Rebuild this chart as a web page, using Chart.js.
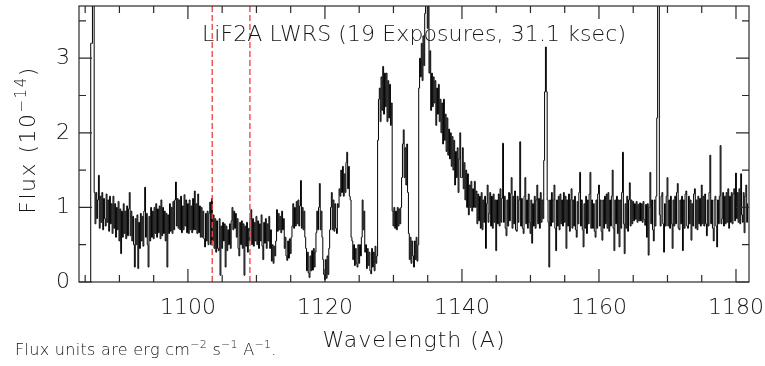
<!DOCTYPE html>
<html>
<head>
<meta charset="utf-8">
<script src="https://cdn.jsdelivr.net/npm/chart.js@4.4.1/dist/chart.umd.min.js"></script>
<style>
  html, body { margin: 0; padding: 0; background: #ffffff; }
  #wrap { width: 765px; height: 366px; }
</style>
</head>
<body>
<div id="wrap"><canvas id="c" width="765" height="366"></canvas></div>
<script>
// ---------------- data ----------------
const WAVE_STEP = 0.125;             // bin width in Angstrom

const START_A = 1085.75;
const FLUX_A = [0.00, 3.20, 3.20, 6.00, 6.00, 1.20, 0.78, 1.20, 0.85, 1.10,
  1.43, 0.72, 1.15, 0.80, 1.20, 0.70, 1.12, 0.85,
  0.75, 1.18, 0.80, 1.10, 0.68, 1.15, 0.78, 1.05,
  0.65, 1.15, 0.72, 1.05, 0.60, 1.00, 0.70, 1.08,
  0.55, 0.98, 0.38, 0.95, 0.60, 1.05, 0.65, 0.95,
  0.58, 1.02, 0.62, 0.98, 1.20, 0.62, 0.95, 0.55,
  0.88, 0.50, 0.20, 0.85, 0.50, 0.90, 0.18, 0.80,
  0.45, 0.92, 0.55, 0.88, 0.48, 0.95, 1.27, 0.60,
  0.92, 0.50, 0.20, 0.88, 0.55, 1.00, 0.60, 0.95];

const START_B = 1095.0;
const FLUX_B = [
  0.58, 1.00, 0.65, 1.05, 0.60, 0.98, 0.66, 1.02,
  0.58, 1.10, 0.62, 1.00, 0.65, 0.95, 0.55, 0.92,
  0.20, 0.90, 0.65, 1.05, 0.68, 1.00, 0.65, 1.08,
  0.70, 1.10, 1.34, 0.75, 1.12, 0.72, 1.10, 0.70,
  1.15, 0.66, 1.02, 0.70, 1.17, 0.75, 1.10, 0.66,
  1.05, 0.65, 1.10, 0.70, 1.02, 0.66, 1.12, 0.70,
  1.22, 0.70, 1.05, 0.65, 1.18, 0.66, 1.02, 0.60,
  1.00, 0.60, 0.95, 0.58, 0.47, 0.92, 0.55, 0.95,
  0.50, 0.92, 1.07, 0.50, 1.12, 0.55, 0.90, 0.45,
  0.85, 0.40, 0.82, 0.45, 0.42, 0.85, 0.09, 0.75];

const START_C = 1105.0;
const FLUX_C = [
  0.45, 0.80, 0.55, 0.78, 0.20, 0.75, 0.42, 0.70,
  0.50, 0.78, 0.45, 0.82, 1.00, 0.70, 0.95, 0.72,
  0.92, 0.60, 0.85, 0.45, 0.35, 0.80, 0.50, 0.82,
  0.45, 0.78, 0.09, 0.75, 0.48, 0.80, 0.40, 0.72,
  0.55, 0.85, 0.97, 0.50, 0.85, 0.48, 0.80, 0.55,
  0.88, 0.50, 0.82, 0.45, 0.78, 0.55, 0.90, 0.48,
  0.30, 0.80, 0.52, 0.85, 0.45, 0.78, 0.55, 0.88,
  0.45, 0.70, 0.28, 0.50, 0.25, 0.48, 0.35, 0.55,
  0.97, 0.68, 0.92, 0.70, 0.88, 0.66, 0.95, 0.70,
  0.85, 0.45, 0.60, 0.35, 0.29, 0.55, 0.32, 0.58];

const START_D = 1115.0;
const FLUX_D = [
  0.38, 0.60, 0.75, 1.05, 0.72, 1.00, 0.75, 1.08,
  0.78, 1.10, 0.75, 1.02, 1.36, 0.72, 1.00, 0.70,
  0.95, 0.60, 0.45, 0.15, 0.40, 0.12, 0.06, 0.35,
  0.15, 0.42, 0.16, 0.45, 0.20, 0.40, 0.66, 0.95,
  0.70, 1.00, 1.32, 0.70, 0.95, 0.60, 0.30, 0.10,
  0.03, 0.30, 0.05, 0.35, 0.10, 0.45, 0.70, 1.00,
  1.20, 0.70, 1.10, 0.68, 1.05, 0.72, 0.65, 1.05,
  1.00, 1.25, 1.15, 1.50, 1.20, 1.55, 1.15, 1.45,
  1.20, 1.60, 1.74, 1.25, 1.55, 1.15, 1.10, 0.60,
  0.55, 0.30, 0.50, 0.22, 0.45, 0.25, 0.20, 0.50];

const START_E = 1125.0;
const FLUX_E = [
  0.25, 0.50, 0.35, 0.60, 1.10, 0.70, 0.95, 0.40,
  0.50, 0.18, 0.45, 0.22, 0.40, 0.15, 0.11, 0.45,
  0.20, 0.40, 0.15, 0.48, 0.25, 0.35, 1.90, 2.45,
  2.60, 2.15, 2.75, 2.30, 2.89, 2.25, 2.80, 2.35,
  2.80, 2.15, 2.70, 2.20, 2.65, 2.10, 2.40, 0.95,
  0.75, 1.00, 0.72, 0.95, 0.70, 1.00, 0.75, 0.98,
  0.78, 1.00, 1.40, 1.85, 2.04, 1.40, 1.80, 1.30,
  1.85, 1.20, 0.65, 0.30, 0.60, 0.25, 0.55, 0.35,
  0.20, 0.55, 0.30, 0.60, 0.28, 0.50, 2.60, 3.00,
  2.75, 3.20, 2.70, 3.30, 2.90, 3.60, 3.75, 3.90];

const START_F = 1135.0;
const FLUX_F = [
  3.40, 3.90, 2.80, 3.10, 2.30, 2.80, 2.35, 2.75,
  2.40, 2.70, 2.10, 2.60, 2.25, 2.65, 2.15, 2.45,
  2.00, 2.40, 1.85, 2.45, 1.90, 2.25, 1.75, 2.20,
  1.70, 2.05, 1.65, 2.00, 1.55, 1.95, 1.50, 1.90,
  1.30, 1.75, 1.40, 1.80, 1.20, 1.65, 2.00, 1.40,
  1.40, 1.80, 1.25, 1.60, 1.10, 1.50, 1.00, 1.45,
  0.90, 1.30, 1.00, 1.35, 0.95, 1.25, 1.00, 1.35,
  1.00, 1.22, 0.78, 1.18, 0.82, 1.15, 0.72, 1.20,
  0.70, 1.10, 0.80, 1.15, 0.45, 1.05, 1.30, 0.80,
  0.92, 1.20, 0.75, 1.15, 0.72, 1.18, 0.80, 1.10];

const START_G = 1145.0;
const FLUX_G = [
  0.42, 1.10, 0.78, 1.18, 0.75, 1.25, 0.80, 1.12,
  1.86, 0.80, 1.15, 0.72, 0.62, 1.10, 0.75, 1.20,
  0.82, 1.18, 1.40, 0.72, 1.15, 0.78, 1.22, 0.70,
  0.68, 1.15, 0.80, 1.10, 1.88, 0.75, 1.12, 0.72,
  0.65, 1.15, 1.40, 0.78, 1.10, 0.72, 1.18, 0.80,
  0.65, 1.10, 0.52, 1.05, 0.75, 1.15, 0.72, 1.10,
  1.30, 0.78, 1.12, 0.72, 1.20, 0.80, 1.10, 0.85,
  1.63, 2.55, 3.15, 2.55, 1.10, 0.80, 0.20, 1.10,
  0.75, 1.20, 0.80, 1.10, 1.30, 0.72, 0.42, 1.10,
  0.75, 1.15, 0.70, 1.18, 0.78, 1.10, 0.75, 1.20];

const START_H = 1155.0;
const FLUX_H = [
  0.80, 1.15, 0.45, 1.10, 0.75, 1.18, 0.68, 1.10,
  1.25, 0.72, 1.10, 0.75, 1.15, 0.70, 0.60, 1.08,
  0.78, 1.20, 1.47, 0.75, 1.10, 0.70, 0.47, 1.05,
  0.72, 1.15, 0.65, 1.10, 0.78, 1.18, 1.47, 0.72,
  1.10, 0.72, 1.05, 0.68, 0.60, 1.10, 0.72, 1.18,
  1.30, 0.75, 1.10, 0.68, 0.56, 1.10, 0.72, 1.15,
  0.78, 1.18, 0.72, 1.20, 0.68, 1.10, 0.75, 1.15,
  1.50, 0.72, 0.42, 1.10, 0.78, 1.15, 0.65, 1.10,
  0.47, 1.10, 0.72, 1.20, 1.74, 0.78, 0.38, 1.05,
  0.72, 1.15, 0.68, 1.10, 1.33, 0.75, 1.10, 0.78];

const START_I = 1165.0;
const FLUX_I = [
  1.08, 0.82, 1.05, 0.84, 1.08, 0.80, 1.04, 0.82,
  1.06, 0.82, 1.05, 0.80, 1.08, 0.84, 0.76, 1.04,
  0.60, 1.05, 0.36, 1.00, 1.47, 0.78, 1.10, 0.70,
  0.55, 1.10, 0.75, 1.15, 2.20, 5.00, 5.00, 0.90,
  0.75, 1.15, 1.20, 0.78, 0.40, 1.05, 0.75, 1.15,
  1.40, 0.75, 1.10, 0.72, 1.15, 0.78, 0.45, 1.10,
  0.75, 1.15, 0.78, 1.20, 1.32, 0.72, 0.70, 1.10,
  0.78, 1.15, 0.42, 1.10, 0.72, 1.18, 1.22, 0.75,
  0.72, 1.15, 0.78, 1.10, 0.56, 1.05, 0.75, 1.18,
  1.25, 0.72, 1.10, 0.70, 1.15, 0.78, 1.12, 0.75];

const START_J = 1175.0;
const FLUX_J = [
  1.30, 0.78, 1.15, 0.75, 1.18, 0.78, 0.62, 1.10,
  0.75, 1.20, 1.70, 0.78, 1.10, 0.72, 0.55, 1.10,
  1.15, 0.75, 0.47, 1.10, 0.78, 1.15, 1.83, 0.78,
  0.85, 1.20, 0.75, 1.15, 0.78, 1.20, 0.80, 1.25,
  0.72, 1.15, 0.80, 1.20, 0.78, 1.18, 1.25, 0.82,
  1.46, 0.85, 1.20, 0.80, 1.25, 0.78, 1.45, 0.90,
  0.80, 1.20, 0.66, 1.15, 1.30, 0.80, 1.05];

const MARKER_WAVES = [1103.55, 1109.05];   // red dashed lines
const X_TICK_STEP = 5, X_LABEL_STEP = 20;
const Y_TICK_STEP = 0.5;
const X_RANGE = [1084.1, 1181.9];
const Y_RANGE = [0, 3.7];

const TITLE = 'LiF2A LWRS (19 Exposures, 31.1 ksec)';
const X_TITLE = 'Wavelength (A)';

// ---------------- build points ----------------
const SEGMENTS = [
  [START_A, FLUX_A], [START_B, FLUX_B], [START_C, FLUX_C], [START_D, FLUX_D],
  [START_E, FLUX_E], [START_F, FLUX_F], [START_G, FLUX_G], [START_H, FLUX_H],
  [START_I, FLUX_I], [START_J, FLUX_J]
];
const spectrum = [];
SEGMENTS.forEach(([s, arr]) => arr.forEach((f, i) => spectrum.push({x: +(s + i * WAVE_STEP).toFixed(3), y: f})));

const FAM = '"DejaVu Sans", "Liberation Sans", sans-serif';
const WEIGHT = '200';
const TXT = '#151515';
const AX = '#2a2a2a';

const markerSets = MARKER_WAVES.map(w => ({
  data: [{x: w, y: Y_RANGE[0]}, {x: w, y: Y_RANGE[1]}],
  borderColor: 'rgba(240,70,70,0.9)',
  borderWidth: 1.5,
  borderDash: [6, 3],
  pointRadius: 0,
  fill: false
}));

function drawRich(ctx, parts, x, y, size, align, spacing) {
  const big = WEIGHT + ' ' + size + 'px ' + FAM;
  const small = WEIGHT + ' ' + Math.round(size * 0.66) + 'px ' + FAM;
  ctx.letterSpacing = (spacing || 0) + 'px';
  let total = 0;
  parts.forEach(p => { ctx.font = p.sup ? small : big; total += ctx.measureText(p.t).width; });
  let cx = align === 'center' ? x - total / 2 : x;
  ctx.textAlign = 'left';
  ctx.textBaseline = 'alphabetic';
  parts.forEach(p => {
    ctx.font = p.sup ? small : big;
    ctx.fillText(p.t, cx, p.sup ? y - size * 0.42 : y);
    cx += ctx.measureText(p.t).width;
  });
  ctx.letterSpacing = '0px';
}

const overlay = {
  id: 'overlay',
  afterDatasetsDraw(chart) {
    const ctx = chart.ctx, a = chart.chartArea;
    const xs = chart.scales.x, ys = chart.scales.y;
    ctx.save();
    ctx.strokeStyle = AX;
    ctx.lineWidth = 1.2;
    ctx.strokeRect(a.left, a.top, a.right - a.left, a.bottom - a.top);
    ctx.beginPath();
    xs.ticks.forEach(t => {
      const px = xs.getPixelForValue(t.value);
      const len = (t.value % X_LABEL_STEP === 0) ? 13 : 7;
      ctx.moveTo(px, a.bottom); ctx.lineTo(px, a.bottom - len);
      ctx.moveTo(px, a.top); ctx.lineTo(px, a.top + len);
    });
    ys.ticks.forEach(t => {
      const py = ys.getPixelForValue(t.value);
      const len = Number.isInteger(t.value) ? 13 : 7;
      ctx.moveTo(a.left, py); ctx.lineTo(a.left + len, py);
      ctx.moveTo(a.right, py); ctx.lineTo(a.right - len, py);
    });
    ctx.stroke();

    ctx.fillStyle = TXT;
    drawRich(ctx, [{t: TITLE}], (a.left + a.right) / 2, a.top + 35, 22, 'center', 0.1);
    drawRich(ctx, [{t: X_TITLE}], (a.left + a.right) / 2, 347, 22, 'center', 1);
    ctx.save();
    ctx.translate(35, 140);
    ctx.rotate(-Math.PI / 2);
    drawRich(ctx, [{t: 'Flux (10'}, {t: '\u221214', sup: true}, {t: ')'}], 0, 0, 22, 'center', 1.5);
    ctx.restore();
    drawRich(ctx, [{t: 'Flux units are erg cm'}, {t: '\u22122', sup: true}, {t: ' s'}, {t: '\u22121', sup: true},
                   {t: ' A'}, {t: '\u22121', sup: true}, {t: '.'}], 15, 355, 16, 'left', 0.3);
    ctx.restore();
  }
};

new Chart(document.getElementById('c'), {
  type: 'line',
  data: {
    datasets: [
      ...markerSets,
      {
        data: spectrum,
        borderColor: '#000000',
        borderWidth: 1,
        stepped: 'middle',
        pointRadius: 0,
        fill: false
      }
    ]
  },
  options: {
    responsive: false,
    animation: false,
    devicePixelRatio: 1,
    layout: { autoPadding: false, padding: { left: 0, right: 16, top: 6, bottom: 0 } },
    plugins: { legend: { display: false }, tooltip: { enabled: false }, title: { display: false } },
    scales: {
      x: {
        type: 'linear',
        min: X_RANGE[0], max: X_RANGE[1],
        grid: { display: false, drawTicks: false },
        border: { display: false },
        ticks: {
          stepSize: X_TICK_STEP, includeBounds: false, autoSkip: false, maxRotation: 0,
          padding: 13, color: TXT, font: { family: FAM, size: 22, weight: WEIGHT },
          callback: v => (v % X_LABEL_STEP === 0 ? String(v) : '')
        },
        afterFit: s => { s.height = 84; s.paddingLeft = 0; s.paddingRight = 0; }
      },
      y: {
        type: 'linear',
        min: Y_RANGE[0], max: Y_RANGE[1],
        grid: { display: false, drawTicks: false },
        border: { display: false },
        ticks: {
          stepSize: Y_TICK_STEP, includeBounds: false, autoSkip: false,
          padding: 9, color: TXT, font: { family: FAM, size: 22, weight: WEIGHT },
          callback: v => (Number.isInteger(v) ? String(v) : '')
        },
        afterFit: s => { s.width = 79; s.paddingTop = 0; s.paddingBottom = 0; }
      }
    }
  },
  plugins: [overlay]
});
</script>
</body>
</html>
